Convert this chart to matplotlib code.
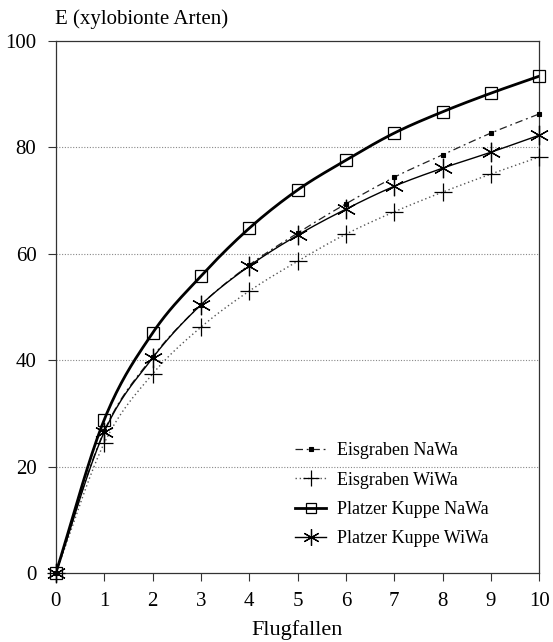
import numpy as np
import matplotlib
matplotlib.use("Agg")
import matplotlib.pyplot as plt

x = [0, 1, 2, 3, 4, 5, 6, 7, 8, 9, 10]
eis_nawa = [0, 26.7, 40.6, 50.4, 57.9, 63.9, 69.4, 74.4, 78.6, 82.7, 86.3]
eis_wiwa = [0, 24.4, 37.4, 46.2, 53.0, 58.6, 63.7, 67.9, 71.6, 75.0, 78.2]
pk_nawa = [0, 28.8, 45.1, 55.8, 64.8, 72.0, 77.6, 82.7, 86.7, 90.2, 93.4]
pk_wiwa = [0, 26.5, 40.4, 50.4, 57.7, 63.5, 68.4, 72.7, 76.1, 79.1, 82.3]
labels = ["Eisgraben NaWa", "Eisgraben WiWa", "Platzer Kuppe NaWa", "Platzer Kuppe WiWa"]

plt.rcParams['font.family'] = ['Liberation Serif', 'DejaVu Serif']


def smooth(xs, ys, n=20):
    # catmull-rom for drawing the curve between the data points
    xs = np.asarray(xs, float)
    ys = np.asarray(ys, float)
    px = np.concatenate([[2 * xs[0] - xs[1]], xs, [2 * xs[-1] - xs[-2]]])
    py = np.concatenate([[2 * ys[0] - ys[1]], ys, [2 * ys[-1] - ys[-2]]])
    out_x, out_y = [], []
    t = np.linspace(0, 1, n, endpoint=False)
    for i in range(1, len(px) - 2):
        for arr, out in ((px, out_x), (py, out_y)):
            p0, p1, p2, p3 = arr[i - 1], arr[i], arr[i + 1], arr[i + 2]
            out.extend(0.5 * (2 * p1 + (-p0 + p2) * t
                              + (2 * p0 - 5 * p1 + 4 * p2 - p3) * t ** 2
                              + (-p0 + 3 * p1 - 3 * p2 + p3) * t ** 3))
    out_x.append(xs[-1])
    out_y.append(ys[-1])
    return out_x, out_y


fig = plt.figure(figsize=(5.53, 6.42), dpi=100)
ax = fig.add_axes([0.101, 0.1075, 0.874, 0.8285])

styles = [
    dict(ys=eis_nawa, ls=(0, (6, 3, 1.5, 3)), lw=0.9, color='#222222', marker='s', ms=3, mfc='black', mew=0.8),
    dict(ys=eis_wiwa, ls=(0, (1, 2)), lw=1.0, color='#555555', marker='+', ms=13, mfc='none', mew=0.9),
    dict(ys=pk_nawa, ls='-', lw=2.0, color='black', marker='s', ms=9, mfc='none', mew=0.9),
    dict(ys=pk_wiwa, ls='-', lw=1.0, color='black', marker=(6, 2, 0), ms=14, mfc='none', mew=0.9),
]

for st, lab in zip(styles, labels):
    sx, sy = smooth(x, st['ys'])
    ax.plot(sx, sy, ls=st['ls'], lw=st['lw'], color=st['color'])
    ax.plot(x, st['ys'], ls='none', marker=st['marker'], ms=st['ms'],
            mfc=st['mfc'], mec='black', mew=st['mew'], clip_on=False, zorder=3)
    ax.plot([], [], ls=st['ls'], lw=st['lw'], color=st['color'], marker=st['marker'],
            ms=st['ms'] * 0.85, mfc=st['mfc'], mec='black', mew=st['mew'], label=lab)

ax.set_xlim(0, 10)
ax.set_ylim(0, 100)
ax.set_xticks(range(0, 11))
ax.set_yticks(range(0, 101, 20))
for yv in [20, 40, 60, 80]:
    ax.axhline(yv, color='#888888', lw=0.8, ls=(0, (1, 1.5)), zorder=0)
ax.tick_params(direction='out', length=6, width=0.8, labelsize=15, pad=8, color='#333333')
for sp in ax.spines.values():
    sp.set_linewidth(0.9)
    sp.set_color('#333333')

ax.set_xlabel("Flugfallen", fontsize=16, labelpad=6)
fig.text(0.1, 0.962, "E (xylobionte Arten)", fontsize=15, ha='left', va='baseline')

ax.legend(loc='lower right', bbox_to_anchor=(0.91, 0.035), borderaxespad=0,
          frameon=False, fontsize=13, handlelength=1.7, labelspacing=0.68, handletextpad=0.6)

fig.savefig("out.png", dpi=100)
